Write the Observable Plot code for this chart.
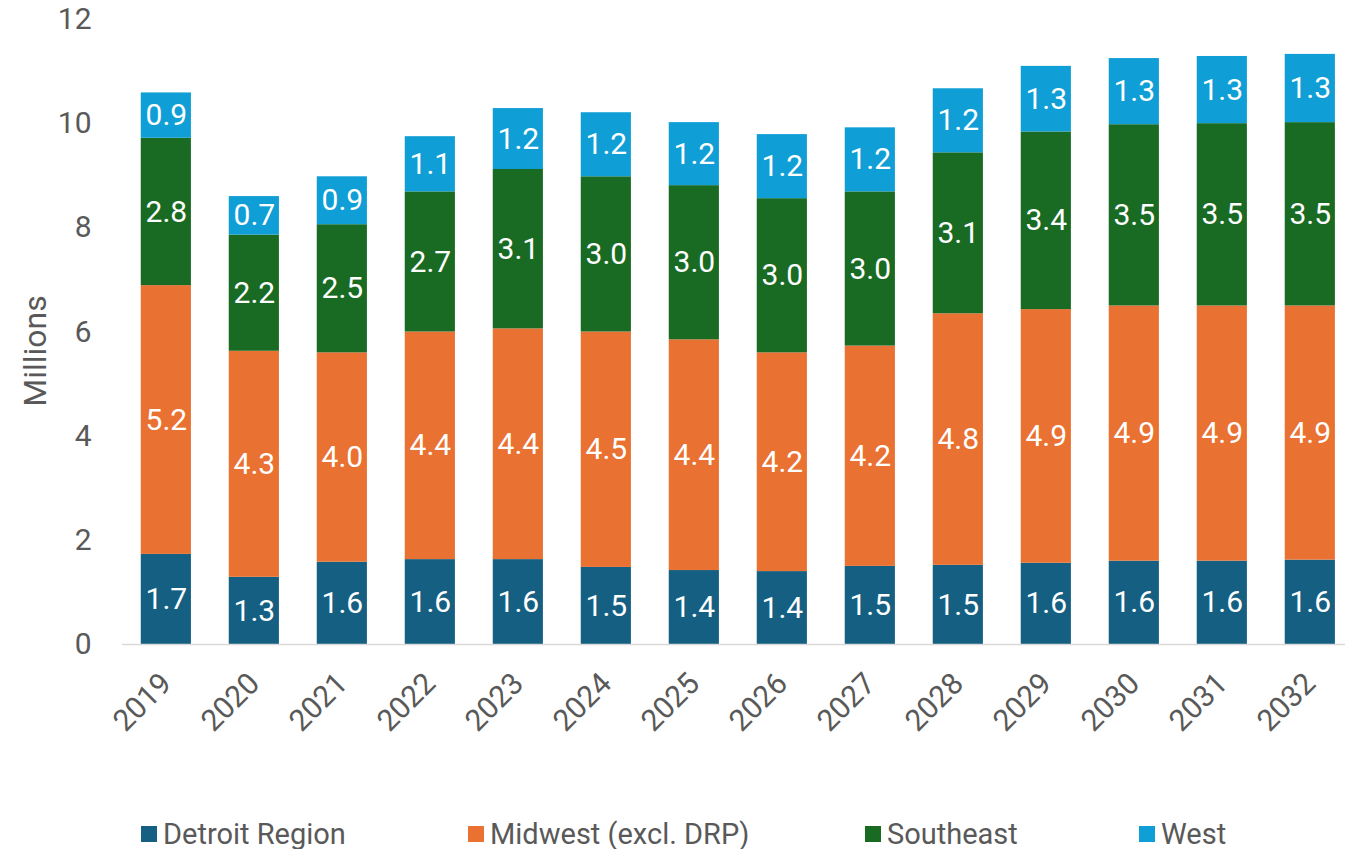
<!DOCTYPE html>
<html>
<head>
<meta charset="utf-8">
<script src="https://cdn.jsdelivr.net/npm/d3@7"></script>
<script src="https://cdn.jsdelivr.net/npm/@observablehq/plot@0.6"></script>
<style>
  html, body { margin: 0; padding: 0; background: #fff; }
  #wrap { position: relative; width: 1345px; height: 849px; }
  #legend { position: absolute; left: 0; top: 819px; width: 1345px; height: 30px;
    font-family: Roboto, sans-serif; font-size: 29px; line-height: 30px; color: #595959; }
  .item { position: absolute; top: 0; height: 30px; display: flex; align-items: center; white-space: nowrap; }
  .sw { width: 16px; height: 16px; margin-right: 6px; }
</style>
</head>
<body>
<div id="wrap">
  <div id="chart"></div>
  <div id="legend"></div>
</div>
<script>
const years = ["2019","2020","2021","2022","2023","2024","2025","2026","2027","2028","2029","2030","2031","2032"];
const seriesNames = ["Detroit Region", "Midwest (excl. DRP)", "Southeast", "West"];
const seriesColors = ["#156082", "#E97132", "#196B24", "#0F9ED5"];
const detroit   = [1.73, 1.29, 1.58, 1.63, 1.63, 1.48, 1.42, 1.40, 1.50, 1.52, 1.56, 1.60, 1.60, 1.62];
const midwest   = [5.16, 4.34, 4.02, 4.37, 4.43, 4.52, 4.43, 4.20, 4.23, 4.83, 4.87, 4.90, 4.90, 4.88];
const southeast = [2.83, 2.23, 2.46, 2.69, 3.06, 2.98, 2.96, 2.96, 2.96, 3.09, 3.41, 3.48, 3.50, 3.52];
const west      = [0.87, 0.74, 0.92, 1.06, 1.17, 1.23, 1.21, 1.23, 1.23, 1.23, 1.26, 1.27, 1.29, 1.31];
const yTicks = [0, 2, 4, 6, 8, 10, 12];
const yTitle = "Millions";

const seriesValues = [detroit, midwest, southeast, west];
const data = [];
seriesNames.forEach((s, i) => {
  years.forEach((yr, j) => data.push({year: yr, series: s, value: seriesValues[i][j]}));
});
const fmt = d3.format(".1f");
const font = "Roboto, 'Open Sans', sans-serif";

const chart = Plot.plot({
  width: 1345,
  height: 770,
  marginLeft: 122,
  marginRight: 0,
  marginTop: 19,
  marginBottom: 126,
  style: {fontFamily: font, fontSize: "30px", color: "#595959", background: "white"},
  x: {domain: years, paddingInner: 0.43, paddingOuter: 0.164, align: 0.65, round: false, label: null},
  y: {domain: [0, 12], label: null},
  color: {domain: seriesNames, range: seriesColors},
  marks: [
    Plot.barY(data, {x: "year", y: "value", fill: "series"}),
    Plot.text(data, Plot.stackY({x: "year", y: "value", text: d => fmt(d.value),
      fill: "white", fontSize: 30, fontFamily: font})),
    Plot.ruleY([0], {stroke: "#d9d9d9", strokeWidth: 1.5}),
    Plot.axisX({tickSize: 0, tickRotate: -45, tickPadding: 34, fontSize: 30, fill: "#595959", label: null}),
    Plot.axisY({ticks: yTicks, tickSize: 0, tickPadding: 31, fontSize: 30, fill: "#595959", label: null}),
    Plot.text([yTitle], {frameAnchor: "left", textAnchor: "middle", lineAnchor: "middle",
      dx: -87, dy: 19, rotate: -90, fontSize: 32, fill: "#595959", fontFamily: font})
  ]
});
document.getElementById("chart").appendChild(chart);

const legendX = [141, 468, 865, 1139];
const legend = document.getElementById("legend");
seriesNames.forEach((s, i) => {
  const it = document.createElement("div");
  it.className = "item";
  it.style.left = legendX[i] + "px";
  const sw = document.createElement("div");
  sw.className = "sw";
  sw.style.background = seriesColors[i];
  const tx = document.createElement("span");
  tx.textContent = s;
  it.appendChild(sw); it.appendChild(tx);
  legend.appendChild(it);
});
</script>
</body>
</html>
